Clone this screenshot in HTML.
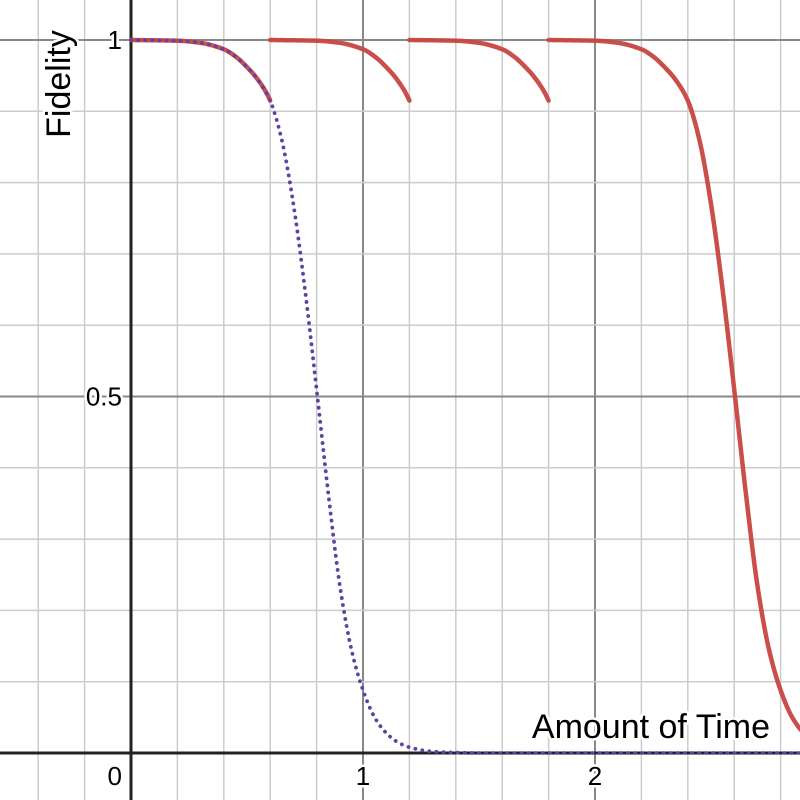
<!DOCTYPE html>
<html><head><meta charset="utf-8"><style>
html,body{margin:0;padding:0;background:#fff;}
svg{display:block;font-family:"Liberation Sans",sans-serif;}
.lbl{fill:#000;stroke:#fff;stroke-width:5px;paint-order:stroke;stroke-linejoin:round;}
</style></head><body>
<svg id="chart" width="800" height="800" viewBox="0 0 800 800"></svg>
<script>
// data
const tTimes = [0, 0.2, 0.3, 0.4, 0.45, 0.5, 0.55, 0.6, 0.65, 0.7, 0.75, 0.8, 0.85, 0.9, 0.95, 1.0, 1.05, 1.1, 1.15, 1.2, 1.3, 1.5, 2.0, 2.9];
const fidelity = [1, 0.999, 0.996, 0.987, 0.977, 0.962, 0.943, 0.915, 0.86, 0.77, 0.65, 0.51, 0.365, 0.235, 0.145, 0.088, 0.05, 0.028, 0.015, 0.008, 0.002, 0, 0, 0];
const resetStarts = [0, 0.6, 1.2, 1.8];
const resetEnds = [0.6, 1.2, 1.8, 2.9];
const xTicks = [0, 1, 2];
const xTickLabels = ["0", "1", "2"];
const yTicks = [0.5, 1];
const yTickLabels = ["0.5", "1"];

const X0 = 131, XU = 232, Y0 = 753, YU = 713;
const xs = v => X0 + v * XU;
const ys = v => Y0 - v * YU;
const svg = document.getElementById('chart');
const NS = 'http://www.w3.org/2000/svg';
function mk(tag, attrs, parent) {
  const e = document.createElementNS(NS, tag);
  for (const k in attrs) e.setAttribute(k, attrs[k]);
  (parent || svg).appendChild(e);
  return e;
}
// grid
const grid = mk('g', {});


for (let i = -3; i <= 15; i++) {
  const v = i * 0.2, x = xs(v);
  if (x < 0 || x > 800 || i === 0) continue;
  const major = i % 5 === 0;
  const l = mk('line', {x1: x, x2: x, y1: 0, y2: 800, stroke: major ? '#888' : '#ccc', 'stroke-width': major ? 2 : 1.5}, grid);
  
  
}
for (let i = -1; i <= 11; i++) {
  const v = i * 0.1, y = ys(v);
  if (y < 0 || y > 800 || i === 0) continue;
  const major = i % 5 === 0;
  const l = mk('line', {x1: 0, x2: 800, y1: y, y2: y, stroke: major ? '#888' : '#ccc', 'stroke-width': major ? 2 : 1.5}, grid);
  
  
}
const ax = mk('line', {x1: 0, x2: 800, y1: ys(0), y2: ys(0), stroke: '#222', 'stroke-width': 3});


const ay = mk('line', {x1: xs(0), x2: xs(0), y1: 0, y2: 800, stroke: '#222', 'stroke-width': 3});



// monotone cubic interpolation of read values
function interp(t) {
  const n = tTimes.length;
  if (t <= tTimes[0]) return fidelity[0];
  if (t >= tTimes[n - 1]) return fidelity[n - 1];
  let i = 0; while (tTimes[i + 1] < t) i++;
  const h = tTimes[i + 1] - tTimes[i];
  const sl = k => (fidelity[k + 1] - fidelity[k]) / (tTimes[k + 1] - tTimes[k]);
  const m = k => {
    if (k === 0) return sl(0);
    if (k === n - 1) return sl(n - 2);
    const a = sl(k - 1), b = sl(k);
    return a * b <= 0 ? 0 : 2 / (1 / a + 1 / b);
  };
  const s = (t - tTimes[i]) / h;
  const h00 = 2*s*s*s - 3*s*s + 1, h10 = s*s*s - 2*s*s + s, h01 = -2*s*s*s + 3*s*s, h11 = s*s*s - s*s;
  return h00 * fidelity[i] + h10 * h * m(i) + h01 * fidelity[i + 1] + h11 * h * m(i + 1);
}
function pathFor(start, end, shift) {
  let d = '';
  const N = 200;
  for (let k = 0; k <= N; k++) {
    const t = start + (end - start) * k / N;
    d += (k ? 'L' : 'M') + xs(t).toFixed(2) + ',' + ys(interp(t - shift)).toFixed(2);
  }
  return d;
}
// red segments
for (let i = 0; i < resetStarts.length; i++) {
  const p = mk('path', {d: pathFor(resetStarts[i], resetEnds[i], resetStarts[i]), fill: 'none', stroke: '#c74440', 'stroke-width': 4.5, 'stroke-linecap': 'round', 'stroke-opacity': 0.95});
  
  
}
// purple dotted
const pd = mk('path', {d: pathFor(0, 2.9, 0), fill: 'none', stroke: '#6042a6', 'stroke-width': 3.8, 'stroke-dasharray': '0.1 7', 'stroke-linecap': 'round'});



// tick labels
xTicks.forEach((v, i) => {
  const t = mk('text', {x: v === 0 ? xs(v) - 9 : xs(v), y: 785, 'font-size': 26, 'text-anchor': v === 0 ? 'end' : 'middle', class: 'lbl'});
  t.textContent = xTickLabels[i];
  
  
});
yTicks.forEach((v, i) => {
  const t = mk('text', {x: xs(0) - 9, y: ys(v) + 9, 'font-size': 26, 'text-anchor': 'end', class: 'lbl'});
  t.textContent = yTickLabels[i];
  
  
});
const xt = mk('text', {x: 770, y: 738, 'font-size': 34, 'text-anchor': 'end', class: 'lbl'});
xt.textContent = 'Amount of Time';


const yt = mk('text', {x: 0, y: 0, 'font-size': 34, 'text-anchor': 'middle', class: 'lbl', transform: 'translate(70,84) rotate(-90)'});
yt.textContent = 'Fidelity';


</script>
</body></html>
